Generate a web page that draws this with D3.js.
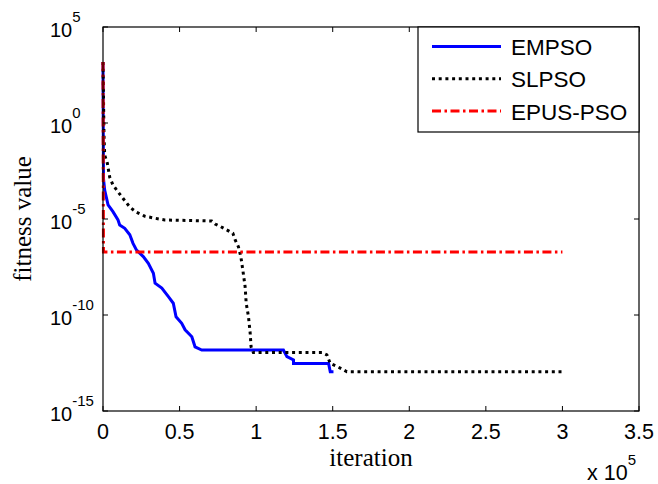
<!DOCTYPE html>
<html>
<head>
<meta charset="utf-8">
<script src="https://cdn.jsdelivr.net/npm/d3@7"></script>
<style>
  body { margin: 0; background: #fff; }
  svg { display: block; }
</style>
</head>
<body>
<div id="chart"></div>
<script>
// values (iteration count, best fitness)
const iterEMPSO = [0, 200, 300, 300, 1100, 3300, 6500, 9800, 10900, 14200, 17500, 19600, 21900, 26300, 29600, 32900, 34000, 38400, 42700, 45900, 47700, 51400, 53600, 58000, 60100, 64500, 117800, 120100, 124400, 124400, 147300, 148400, 150500]
const fitEMPSO = [1.5e3, 1.3e-1, 3.6e-3, 1.3e-3, 3.2e-4, 5.4e-5, 2.4e-5, 8.9e-6, 4.9e-6, 3.3e-6, 1.5e-6, 5.4e-7, 2.4e-7, 1.1e-7, 4.9e-8, 1.5e-8, 4.5e-9, 2.5e-9, 9.0e-10, 4.1e-10, 8.1e-11, 3.7e-11, 1.7e-11, 7.4e-12, 2.2e-12, 1.5e-12, 1.5e-12, 6.8e-13, 4.6e-13, 3.0e-13, 3.0e-13, 1.1e-13, 1.1e-13]

const iterSLPSO = [0, 650, 1100, 2800, 4400, 6500, 9800, 13000, 17500, 21600, 27300, 33800, 40300, 71000, 73200, 76900, 80800, 84800, 86300, 88400, 90000, 91300, 92800, 93500, 95000, 96100, 96700, 98200, 143000, 146200, 148400, 153600, 159300, 300000]
const fitSLPSO = [1.5e3, 2.4e-1, 2.1e-2, 8.3e-3, 1.5e-3, 5.9e-4, 2.6e-4, 1.2e-4, 4.2e-5, 2.3e-5, 1.4e-5, 1.1e-5, 8.9e-6, 7.9e-6, 5.5e-6, 4.0e-6, 2.7e-6, 1.8e-6, 8.1e-7, 3.6e-7, 1.1e-7, 2.2e-8, 3.0e-9, 4.2e-10, 8.1e-11, 1.15e-11, 2.2e-12, 1.1e-12, 1.1e-12, 8.3e-13, 3.0e-13, 1.95e-13, 1.1e-13, 1.1e-13]

const iterEPUS = [0, 300, 300000]
const fitEPUS = [1.5e3, 1.9e-7, 1.9e-7]

const seriesNames = ['EMPSO', 'SLPSO', 'EPUS-PSO']
const xTicks = [0, 0.5, 1, 1.5, 2, 2.5, 3, 3.5]
const yTickExps = [5, 0, -5, -10, -15]

const chart = {
  width: 658,
  height: 484,
  margin: { top: 27, right: 19, bottom: 73, left: 103 },

  draw(element) {
    const width = this.width
    const height = this.height
    const m = this.margin

    const svg = d3.select(`#${element}`)
      .append('svg')
      .attr('width', width)
      .attr('height', height)
      .style('background', '#fff')

    const x = d3.scaleLinear()
      .domain([0, 3.5e5])
      .range([m.left, width - m.right])

    const y = d3.scaleLog()
      .domain([1e-15, 1e5])
      .range([height - m.bottom, m.top])

    const styles = [
      { color: '#0000ff', dash: null },
      { color: '#000000', dash: '3,3.7' },
      { color: '#ff0000', dash: '9,3.5,2.5,3.5' }
    ]

    const series = [
      iterEMPSO.map((v, i) => [v, fitEMPSO[i]]),
      iterSLPSO.map((v, i) => [v, fitSLPSO[i]]),
      iterEPUS.map((v, i) => [v, fitEPUS[i]])
    ]

    const line = d3.line()
      .x(d => x(d[0]))
      .y(d => y(d[1]))

    svg.append('g').classed('lines', true)
      .selectAll('path')
      .data(series)
      .enter()
      .append('path')
      .attr('d', line)
      .attr('fill', 'none')
      .attr('stroke', (d, i) => styles[i].color)
      .attr('stroke-width', 3)
      .attr('stroke-dasharray', (d, i) => styles[i].dash)

    // axes, matlab style: box with ticks pointing inward on all sides
    const axis = svg.append('g').classed('axis', true)
    const x0 = x.range()[0], x1 = x.range()[1]
    const y0 = y.range()[0], y1 = y.range()[1]
    const tickLen = 5

    axis.append('rect')
      .attr('x', x0)
      .attr('y', y1)
      .attr('width', x1 - x0)
      .attr('height', y0 - y1)
      .attr('fill', 'none')
      .attr('stroke', '#000')
      .attr('stroke-width', 1.2)

    xTicks.forEach(t => {
      const px = x(t * 1e5)
      axis.append('line')
        .attr('x1', px).attr('x2', px)
        .attr('y1', y0).attr('y2', y0 - tickLen)
        .attr('stroke', '#000')
      axis.append('line')
        .attr('x1', px).attr('x2', px)
        .attr('y1', y1).attr('y2', y1 + tickLen)
        .attr('stroke', '#000')
      axis.append('text')
        .attr('x', px)
        .attr('y', y0 + 28)
        .attr('text-anchor', 'middle')
        .style('font-family', 'Liberation Sans, Arial, sans-serif')
        .style('font-size', '21.5px')
        .text(t)
    })

    yTickExps.forEach(e => {
      const py = y(Math.pow(10, e))
      axis.append('line')
        .attr('x1', x0).attr('x2', x0 + tickLen)
        .attr('y1', py).attr('y2', py)
        .attr('stroke', '#000')
      axis.append('line')
        .attr('x1', x1).attr('x2', x1 - tickLen)
        .attr('y1', py).attr('y2', py)
        .attr('stroke', '#000')
      const label = axis.append('text')
        .attr('x', 50)
        .attr('y', py + 10)
        .style('font-family', 'Liberation Sans, Arial, sans-serif')
        .style('font-size', '20px')
      label.append('tspan').text('10')
      label.append('tspan')
        .attr('dy', -15)
        .style('font-size', '15px')
        .text(String(e).replace('\u2212', '-'))
    })

    // x 10^5 multiplier
    const mult = svg.append('text')
      .attr('x', 587)
      .attr('y', 480)
      .style('font-family', 'Liberation Sans, Arial, sans-serif')
      .style('font-size', '21.5px')
    mult.append('tspan').text('x 10')
    mult.append('tspan')
      .attr('dy', -15)
      .style('font-size', '15px')
      .text('5')

    svg.append('text')
      .attr('x', (x0 + x1) / 2)
      .attr('y', 466)
      .attr('text-anchor', 'middle')
      .style('font-family', 'Liberation Serif, Times New Roman, serif')
      .style('font-size', '25px')
      .text('iteration')

    svg.append('text')
      .attr('transform', `translate(31,${(y0 + y1) / 2}) rotate(-90)`)
      .attr('text-anchor', 'middle')
      .style('font-family', 'Liberation Serif, Times New Roman, serif')
      .style('font-size', '25px')
      .text('fitness value')

    // legend
    const legend = svg.append('g').classed('legend', true)
    legend.append('rect')
      .attr('x', 418)
      .attr('y', y1)
      .attr('width', x1 - 418)
      .attr('height', 105)
      .attr('fill', '#fff')
      .attr('stroke', '#000')
      .attr('stroke-width', 1.2)

    seriesNames.forEach((name, i) => {
      const ly = 46.5 + i * 32.3
      legend.append('line')
        .attr('x1', 432).attr('x2', 501)
        .attr('y1', ly).attr('y2', ly)
        .attr('stroke', styles[i].color)
        .attr('stroke-width', 3)
        .attr('stroke-dasharray', styles[i].dash)
      legend.append('text')
        .attr('x', 511)
        .attr('y', ly + 8.5)
        .style('font-family', 'Liberation Sans, Arial, sans-serif')
        .style('font-size', '22.5px')
        .text(name)
    })
  }
}

chart.draw('chart')
</script>
</body>
</html>
